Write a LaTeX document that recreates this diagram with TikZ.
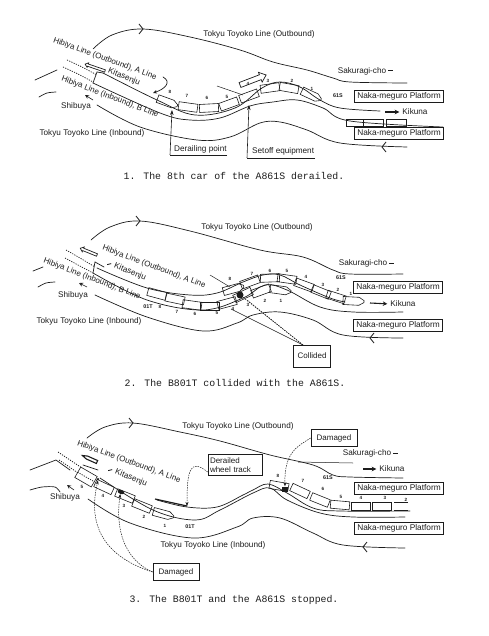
\documentclass[tikz,border=0pt]{standalone}
\usepackage{fontspec}
\setmainfont{Liberation Sans}
\newfontfamily\capfont{Liberation Mono}
\usetikzlibrary{arrows.meta,shapes.geometric}
\definecolor{ink}{HTML}{1C1C1C}
\tikzset{
  trk/.style={ink,line width=0.7pt,line cap=round},
  dots/.style={ink,line width=0.7pt,dash pattern=on 1.2pt off 1.2pt},
  leadline/.style={ink,line width=0.5pt,dash pattern=on 1.5pt off 1pt},
  hair/.style={ink,line width=0.5pt},
  carbox/.style={draw=ink,line width=0.6pt,minimum width=#1,minimum height=8pt,inner sep=0pt},
  carbox/.default=19pt,
  lbl/.style={text=ink,font=\fontsize{8.2}{9}\selectfont,inner sep=0pt},
  slantlbl/.style={lbl,font=\fontsize{8}{9}\selectfont},
  num/.style={text=ink,font=\bfseries\fontsize{4.6}{5}\selectfont,inner sep=0pt},
  plat/.style={draw=ink,line width=0.7pt,text=ink,font=\fontsize{8.3}{9}\selectfont,inner sep=0pt,minimum width=89pt,minimum height=12pt},
  tagbox/.style={draw=ink,line width=0.7pt,text=ink,font=\fontsize{8}{9}\selectfont,inner sep=0pt,align=left},
  captext/.style={text=ink,font=\capfont\fontsize{9.85}{11}\selectfont,inner sep=0pt},
  upar/.style={ink,line width=0.6pt,-{Stealth[length=5pt,width=3.5pt]}},
  dotar/.style={leadline,-{Stealth[length=4pt,width=3pt]}},
  smallar/.style={ink,line width=0.6pt,-{Stealth[length=4pt,width=4pt,open]}},
  solidar/.style={ink,line width=1.1pt,shorten >=3pt,-{Stealth[length=4.5pt,width=4.5pt]}}
}
% name, x, y, rot (positive: clockwise on the page)
\newcommand{\tcar}[4]{\node[carbox,rotate=-#4] (#1) at (#2,#3) {};}
% x, y, rot
\newcommand{\nosecar}[3]{\draw[ink,line width=0.6pt,shift={(#1,#2)},rotate=-#3] (-10,-4) -- (6,-4) -- (11,-1) -- (11,1) -- (6,4) -- (-10,4) -- cycle;}
\newcommand{\numb}[4]{\node[num] (#1) at (#2,#3) {#4};}
% chevron: x, y, sign of direction
\newcommand{\chev}[3]{\draw[ink,line width=0.8pt] (#1-#3*4,#2-5) -- (#1,#2) -- (#1-#3*4,#2+5);}
% hollow arrow: tail x, y, rot, length, half width
\newcommand{\hollow}[5]{\draw[ink,line width=0.7pt,shift={(#1,#2)},rotate=-#3] (0,-#5) -- (#4-#5*2.4,-#5) -- (#4-#5*2.4,-#5*2) -- (#4,0) -- (#4-#5*2.4,#5*2) -- (#4-#5*2.4,#5) -- (0,#5) -- cycle;}
\begin{document}
\begin{tikzpicture}[x=1pt,y=-1pt]
\useasboundingbox (0,0) rectangle (489,636);

%% ---------- PANEL 1 ----------
\draw[trk] plot[smooth,tension=0.6] coordinates {(93,49) (112,35) (143,29) (190,37) (240,50) (273,62) (307,70) (333,78) (350,82) (407,83)};
\chev{143}{29}{1}
\draw[dots] plot[smooth] coordinates {(67,60) (80,66) (97,75)};
\draw[dots] plot[smooth] coordinates {(63,67) (78,74) (93,82)};
\draw[trk] plot[smooth,tension=0.6] coordinates {(103,73) (157,100) (195,115) (235,108) (262,88) (280,82) (300,87) (320,100) (340,108) (380,111)};
\draw[trk] plot[smooth,tension=0.6] coordinates {(93,83) (160,113) (190,120) (220,118) (250,106) (273,102) (297,100) (323,108) (350,121) (443,127)};
\draw[trk] (97,72) -- (93,83);
\draw[trk] (97,72) -- (103,73);
\draw[trk] plot[smooth,tension=0.6] coordinates {(97,105) (140,127) (197,140) (230,137) (260,123) (280,122) (307,130) (340,143) (407,147)};
\chev{382}{147}{-1}
\draw[trk] (35,80) -- (57,70);
\draw[trk] plot[smooth] coordinates {(39,97) (47,93) (56,92)};
\draw[hair] (217,86) -- (243,95);
\nosecar{167}{102}{20}
\tcar{pAe}{188}{107}{8}
\tcar{pAf}{209}{108}{-3}
\tcar{pAg}{229}{104}{-20}
\tcar{pAh}{249}{96}{-20}
\tcar{pAi}{270}{88}{-8}
\tcar{pAj}{289}{88}{10}
\nosecar{311}{95}{25}
\node[carbox=20pt,minimum height=7pt] (pAk) at (373,123) {};
\node[carbox=20pt,minimum height=7pt] (pAl) at (396,123) {};
\node[carbox=17pt,minimum height=7pt] (pAm) at (355,123) {};
\numb{nAa}{170}{92}{8}\numb{nAb}{187}{96}{7}\numb{nAc}{207}{98}{6}\numb{nAd}{227}{97}{5}
\numb{nAe}{248}{84}{4}\numb{nAf}{268}{81}{3}\numb{nAg}{292}{81}{2}\numb{nAh}{312}{89}{1}
\node[num,font=\bfseries\fontsize{5.4}{6}\selectfont] (sA) at (338,96) {61S};
\node[lbl] (tA1) at (259,34) {Tokyu Toyoko Line (Outbound)};
\node[slantlbl,rotate=-20] (tA2) at (105,59) {Hibiya Line (Outbound), A Line};
\node[slantlbl,rotate=-21] (tA3) at (110,97) {Hibiya Line (Inbound), B Line};
\node[lbl,rotate=-22] (tA4) at (124,77) {Kitasenju};
\node[lbl] (tA5) at (76,106) {Shibuya};
\node[lbl] (tA6) at (92,133) {Tokyu Toyoko Line (Inbound)};
\node[lbl] (tA7) at (362,71) {Sakuragi-cho};
\draw[ink,line width=1pt] (tA7.east)+(2,0) -- +(7,0);
\node[lbl] (tA8) at (415,112) {Kikuna};
\coordinate (kA) at (385,112);
\draw[solidar] (kA) -- (tA8.west);
\node[plat] (bA1) at (399,96) {Naka-meguro Platform};
\node[plat] (bA2) at (399,133) {Naka-meguro Platform};
\hollow{105}{71}{199}{21}{1.2}
\hollow{240}{85}{-21}{28}{2.6}
\coordinate (aA1) at (93,100);
\coordinate (aA2) at (85,95);
\draw[smallar] (aA1) -- (aA2);
\coordinate (cA1) at (163,77);
\coordinate (cA2) at (153,93);
\draw[trk,-{Stealth[length=4pt,width=3.5pt]}] (cA1) .. controls (172,82) and (165,89) .. (cA2);
\node[lbl,anchor=west] (dA) at (174,149) {Derailing point};
\node[lbl,anchor=west] (eA) at (252,151) {Setoff equipment};
\coordinate (dA0) at (170,155);
\coordinate (dA1) at (172,110);
\coordinate (dA2) at (227,155);
\draw[hair] (dA2) -- (dA0);
\draw[upar] (dA0) -- (dA1);
\coordinate (eA0) at (247,158);
\coordinate (eA1) at (249,105);
\coordinate (eA2) at (315,158);
\draw[hair] (eA2) -- (eA0);
\draw[upar] (eA0) -- (eA1);
\node[captext] (cap1) at (234,176) {1. The 8th car of the A861S derailed.};

%% ---------- PANEL 2 ----------
\draw[trk] plot[smooth,tension=0.6] coordinates {(91,240) (110,227) (140,221) (190,231) (260,250) (303,257) (333,270) (350,274) (403,274)};
\chev{140}{221}{1}
\draw[dots] plot[smooth] coordinates {(66,250) (80,258) (95,267)};
\draw[dots] plot[smooth] coordinates {(65,258) (78,265) (93,273)};
\draw[trk] plot[smooth,tension=0.6] coordinates {(97,268) (147,288) (190,295) (217,293) (243,282) (263,275) (280,275) (300,285) (330,298) (345,302)};
\draw[trk] plot[smooth,tension=0.6] coordinates {(93,273) (147,300) (203,310) (243,298) (265,285) (287,290) (320,307) (353,312) (403,312)};
\draw[trk] (95,262) -- (93,273);
\draw[trk] (95,262) -- (104,267);
\draw[trk] plot[smooth,tension=0.6] coordinates {(95,295) (147,317) (203,331) (237,323) (253,315) (280,312) (313,320) (343,335) (403,338)};
\chev{370}{338}{-1}
\draw[trk] (33,271) -- (43,267);
\draw[trk] plot[smooth] coordinates {(38,287) (46,283) (55,282)};
\draw[hair] (210,275) -- (230,287);
\tcar{pBa}{157}{294}{15}
\tcar{pBb}{175}{299}{12}
\tcar{pBc}{192}{305}{8}
\tcar{pBd}{210}{306}{0}
\tcar{pBe}{227}{303}{-15}
\tcar{pBf}{243}{295}{-25}
\tcar{pBg}{261}{291}{-20}
\nosecar{280}{290}{8}
\nosecar{233}{289}{-15}
\tcar{pBh}{250}{282}{-20}
\tcar{pBi}{270}{278}{-2}
\tcar{pBj}{287}{279}{8}
\tcar{pBk}{304}{285}{20}
\tcar{pBl}{321}{292}{22}
\tcar{pBm}{336}{297}{18}
\nosecar{353}{301}{3}
\node[circle,fill=ink,minimum size=7pt,inner sep=0pt] (hitB) at (240,295) {};
\numb{nBa}{160}{307}{8}\numb{nBb}{177}{312}{7}\numb{nBc}{195}{314}{6}\numb{nBd}{217}{313}{5}
\numb{nBe}{233}{309}{4}\numb{nBf}{248}{305}{3}\numb{nBg}{265}{301}{2}\numb{nBh}{281}{301}{1}
\numb{nBi}{230}{279}{8}\numb{nBj}{252}{274}{7}\numb{nBk}{270}{271}{6}\numb{nBl}{287}{271}{5}
\numb{nBm}{306}{277}{4}\numb{nBn}{323}{285}{3}\numb{nBo}{338}{290}{2}\numb{nBp}{351}{294}{1}
\node[num,font=\bfseries\fontsize{5.4}{6}\selectfont] (sB) at (341,278) {61S};
\node[num,font=\bfseries\fontsize{5.4}{6}\selectfont] (tB0) at (148,307) {01T};
\node[lbl] (tB1) at (257,227) {Tokyu Toyoko Line (Outbound)};
\node[slantlbl,rotate=-20.5] (tB2) at (154,267) {Hibiya Line (Outbound), A Line};
\node[slantlbl,rotate=-21] (tB3) at (92,279) {Hibiya Line (Inbound), B Line};
\node[lbl,rotate=-22] (tB4) at (130,272) {Kitasenju};
\draw[ink,line width=0.9pt] (tB4.west)+(-7,-1) -- +(-3,-2);
\node[lbl] (tB5) at (73,295) {Shibuya};
\node[lbl] (tB6) at (89,321) {Tokyu Toyoko Line (Inbound)};
\node[lbl] (tB7) at (363,263) {Sakuragi-cho};
\draw[ink,line width=1pt] (tB7.east)+(2,0) -- +(7,0);
\node[lbl] (tB8) at (403,304) {Kikuna};
\coordinate (kB) at (370,303);
\draw[solidar] (kB) -- (tB8.west);
\node[plat] (bB1) at (398,287) {Naka-meguro Platform};
\node[plat] (bB2) at (398,325) {Naka-meguro Platform};
\hollow{97}{255}{202}{18}{1.3}
\coordinate (aB1) at (87,287);
\coordinate (aB2) at (79,283);
\draw[smallar] (aB1) -- (aB2);
\node[tagbox,minimum width=37pt,minimum height=22pt,align=center] (colB) at (312,356) {Collided};
\coordinate (colB0) at (303,345);
\draw[leadline] (colB0) -- (hitB);
\draw[leadline] (colB0) -- (247,300);
\draw[hair] (colB0) -- (231,309);
\node[captext] (cap2) at (235,383) {2. The B801T collided with the A861S.};

%% ---------- PANEL 3 ----------
\draw[trk] plot[smooth,tension=0.6] coordinates {(87,438) (105,427) (133,423) (180,432) (220,441) (270,455) (313,465) (333,475) (350,477) (403,478)};
\chev{133}{423}{1}
\draw[dots] plot[smooth] coordinates {(58,452) (70,460) (82,468)};
\draw[dots] plot[smooth] coordinates {(59,460) (68,466) (78,473)};
\draw[trk] (83,465) -- (98,470);
\draw[ink,line width=1.2pt] (155,499) -- (187,506);
\draw[trk] plot[smooth,tension=0.6] coordinates {(157,500) (187,507) (217,507) (243,495) (253,490) (268,484) (287,493) (313,508) (340,511) (410,511)};
\draw[trk] plot[smooth,tension=0.6] coordinates {(100,478) (153,510) (195,520) (220,510) (253,493) (270,488) (287,500) (320,513) (353,517) (405,517)};
\draw[trk] plot[smooth,tension=0.6] coordinates {(88,499) (130,523) (193,538) (237,527) (253,518) (280,518) (313,533) (343,545) (405,548)};
\chev{363}{547}{-1}
\draw[trk] (30,470) -- (56,460) -- (70,470);
\draw[trk] plot[smooth] coordinates {(30,490) (42,487) (55,487) (60,492)};
\draw[hair] (298,462) -- (353,463);
\node[carbox=19pt,minimum height=12pt,rotate=-30] (pCa) at (86,477) {};
\draw[dots] (pCa.west) -- (pCa.east);
\tcar{pCb}{104}{487}{25}
\tcar{pCc}{125}{496}{22}
\tcar{pCd}{142}{506}{22}
\nosecar{163}{514}{15}
\tcar{pCe}{279}{486}{10}
\tcar{pCf}{300}{491}{25}
\tcar{pCg}{320}{500}{22}
\tcar{pCh}{340}{505}{5}
\tcar{pCi}{361}{506}{0}
\tcar{pCj}{382}{506}{0}
\node[minimum width=14pt,minimum height=8pt,inner sep=0pt] (pCk) at (401,506) {};
\draw[ink,line width=0.6pt] (pCk.north east) -- (pCk.north west) (pCk.south west) -- (pCk.south east);
\node[rectangle,fill=ink,minimum width=6pt,minimum height=5pt,inner sep=0pt] (hitC1) at (285,489) {};
\node[ellipse,fill=ink,minimum width=7pt,minimum height=4pt,inner sep=0pt,rotate=-20] (hitC2) at (121,492) {};
\node[circle,fill=ink,minimum size=2.5pt,inner sep=0pt] (hitC3) at (98,479) {};
\numb{nCa}{82}{487}{5}\numb{nCb}{103}{496}{4}\numb{nCc}{124}{506}{3}\numb{nCd}{144}{517}{2}\numb{nCe}{165}{526}{1}
\numb{nCf}{278}{476}{8}\numb{nCg}{303}{481}{7}\numb{nCh}{323}{489}{6}\numb{nCi}{341}{497}{5}
\numb{nCj}{361}{498}{4}\numb{nCk}{385}{498}{3}\numb{nCl}{406}{500}{2}
\node[num,font=\bfseries\fontsize{5.4}{6}\selectfont] (sC) at (328,478) {61S};
\node[num,font=\bfseries\fontsize{5.4}{6}\selectfont] (tC0) at (190,527) {01T};
\node[lbl] (tC1) at (238,426) {Tokyu Toyoko Line (Outbound)};
\node[slantlbl,rotate=-20] (tC2) at (129,462) {Hibiya Line (Outbound), A Line};
\node[lbl,rotate=-22] (tC4) at (131,478) {Kitasenju};
\draw[ink,line width=0.9pt] (tC4.west)+(-7,-1) -- +(-3,-2);
\node[lbl] (tC5) at (65,497) {Shibuya};
\node[lbl] (tC6) at (213,545) {Tokyu Toyoko Line (Inbound)};
\node[lbl] (tC7) at (367,453) {Sakuragi-cho};
\draw[ink,line width=1pt] (tC7.east)+(2,0) -- +(7,0);
\node[lbl] (tC8) at (392,469) {Kikuna};
\coordinate (kC) at (363,469);
\draw[solidar] (kC) -- (tC8.west);
\node[plat] (bC1) at (399,488) {Naka-meguro Platform};
\node[plat] (bC2) at (399,528) {Naka-meguro Platform};
\draw[ink,line width=1.1pt,fill=white,shift={(97,462)},rotate=156] (0,-1.6) -- (11,-1.6) -- (16,0) -- (11,1.6) -- (0,1.6) -- cycle;
\coordinate (aC1) at (74,490);
\coordinate (aC2) at (67,485);
\draw[smallar] (aC1) -- (aC2);
\node[tagbox,minimum width=46pt,minimum height=17pt,align=center] (dmC1) at (334,438) {Damaged};
\node[tagbox,minimum width=54pt,minimum height=21pt,align=left,text width=50pt,inner xsep=2pt] (whC) at (235,465) {Derailed\\[-0.5pt]wheel track};
\node[tagbox,minimum width=46pt,minimum height=17pt,align=center] (dmC2) at (176,572) {Damaged};
\coordinate (wheelC) at (187,506);
\draw[dotar] (dmC1.west) .. controls (298,446) and (284,452) .. (hitC1.north);
\draw[dotar] ([yshift=-7pt]whC.west) .. controls (190,458) and (187,470) .. (wheelC);
\draw[dotar] (dmC2.west) .. controls (115,560) and (85,535) .. (hitC3.south);
\draw[dotar] (dmC2.west) .. controls (125,560) and (115,530) .. (hitC2.south);
\node[captext] (cap3) at (234,600) {3. The B801T and the A861S stopped.};
\end{tikzpicture}
\end{document}
